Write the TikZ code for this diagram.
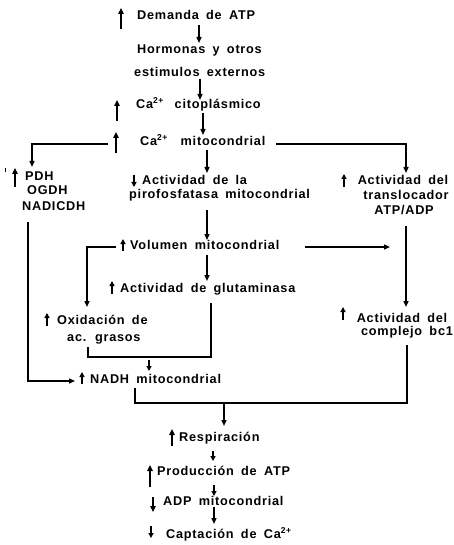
\documentclass[tikz,border=0pt]{standalone}
\usepackage{fontspec}
\setmainfont{Liberation Sans}[LetterSpace=6,WordSpace=1.7]
\usetikzlibrary{arrows.meta}
\newcommand\supx[1]{\raisebox{5pt}{\fontsize{8.5}{8.5}\selectfont #1}}
\tikzset{
  t/.style={anchor=base west,inner sep=0pt,font=\fontsize{12.7}{14}\selectfont\bfseries},
  tc/.style={anchor=base,inner sep=0pt,font=\fontsize{12.7}{14}\selectfont\bfseries},
  ln/.style={line width=1.4pt},
  arr/.style={line width=1.4pt,-{Triangle[length=6pt,width=5pt]}},
  ind/.style={line width=2.2pt,-{Triangle[length=6pt,width=5.5pt]}},
  sind/.style={line width=1.8pt,-{Triangle[length=5pt,width=5pt]}}
}
\begin{document}
\begin{tikzpicture}[x=1pt,y=-1pt]
\useasboundingbox (0,0) rectangle (454,545);
% texts
\node[t] (dem) at (137,20) {Demanda de ATP};
\node[t] (horm1) at (137,54) {Hormonas y otros};
\node[t] (horm2) at (134,77) {estimulos externos};
\node[t] (cacit) at (136,109) {Ca\supx{2+}\hspace{4pt} citoplásmico};
\node[t] (camit) at (140,146) {Ca\supx{2+}\hspace{6pt} mitocondrial};
\node[t] (pdh) at (25,181) {PDH};
\node[t] (ogdh) at (27,195) {OGDH};
\node[t] (nadi) at (22,210) {NADICDH};
\node[t] (pir1) at (142,185) {Actividad de la};
\node[t] (pir2) at (129,199) {pirofosfatasa mitocondrial};
\node[tc] (tr1) at (403,185) {Actividad del};
\node[tc] (tr2) at (406,200) {translocador};
\node[tc] (tr3) at (404,214) {ATP/ADP};
\node[t] (vol) at (130,249) {Volumen mitocondrial};
\node[t] (glu) at (120,292) {Actividad de glutaminasa};
\node[t] (ox1) at (57,324) {Oxidación de};
\node[t] (ox2) at (67,341) {ac. grasos};
\node[tc] (bc1) at (402,322) {Actividad del};
\node[tc] (bc2) at (407,335) {complejo bc1};
\node[t] (nadh) at (90,383) {NADH mitocondrial};
\node[t] (resp) at (179,441) {Respiración};
\node[t] (prod) at (157,475) {Producción de ATP};
\node[t] (adp) at (163,505) {ADP mitocondrial};
\node[t] (cap) at (166,538) {Captación de Ca\supx{2+}};
% increase / decrease indicators
\draw[ind] (121,29) -- (121,8);
\draw[ind] (117,121) -- (117,100);
\draw[ind] (116,153) -- (116,132);
\draw[ind] (15,187) -- (15,168);
\draw[line width=1pt] (5,168) -- (5,172);
\draw[sind] (344,187) -- (344,174);
\draw[sind] (134,175) -- (134,187);
\draw[sind] (123,251) -- (123,239);
\draw[sind] (112,294) -- (112,281);
\draw[sind] (47,326) -- (47,313);
\draw[sind] (343,320) -- (343,307);
\draw[sind] (82,384) -- (82,372);
\draw[ind] (172,446) -- (172,429);
\draw[ind] (150,487) -- (150,465);
\draw[ind] (153,497) -- (153,512);
\draw[sind] (151,526) -- (151,538);
% connectors
\coordinate (l1) at (32,144); \coordinate (r1) at (406,144);
\draw[arr] (199,25) -- (199,43);
\draw[arr] (200,79) -- (200,100);
\draw[arr] (203,113) -- (203,135);
\draw[arr] (207,150) -- (207,173);
\draw[arr] (108,144) -- (l1) -- (32,167);
\draw[arr] (276,144) -- (r1) -- (406,173);
\draw[arr] (207,210) -- (207,240);
\coordinate (l2) at (87,247);
\draw[arr] (116,247) -- (l2) -- (87,307);
\draw[arr] (305,247) -- (390,247);
\draw[arr] (406,226) -- (406,307);
\draw[arr] (207,255) -- (207,281);
\draw[ln] (88,347) -- (88,357) -- (211,357) -- (211,303);
\draw[sind] (149,360) -- (149,371);
\coordinate (l3) at (28,381);
\draw[arr] (28,222) -- (l3) -- (75,381);
\draw[ln] (407,345) -- (407,403) -- (135,403) -- (135,388);
\draw[arr] (224,403) -- (224,426);
\draw[sind] (213,451) -- (213,461);
\draw[sind] (214,485) -- (214,496);
\draw[arr] (214,507) -- (214,524);
\end{tikzpicture}
\end{document}
